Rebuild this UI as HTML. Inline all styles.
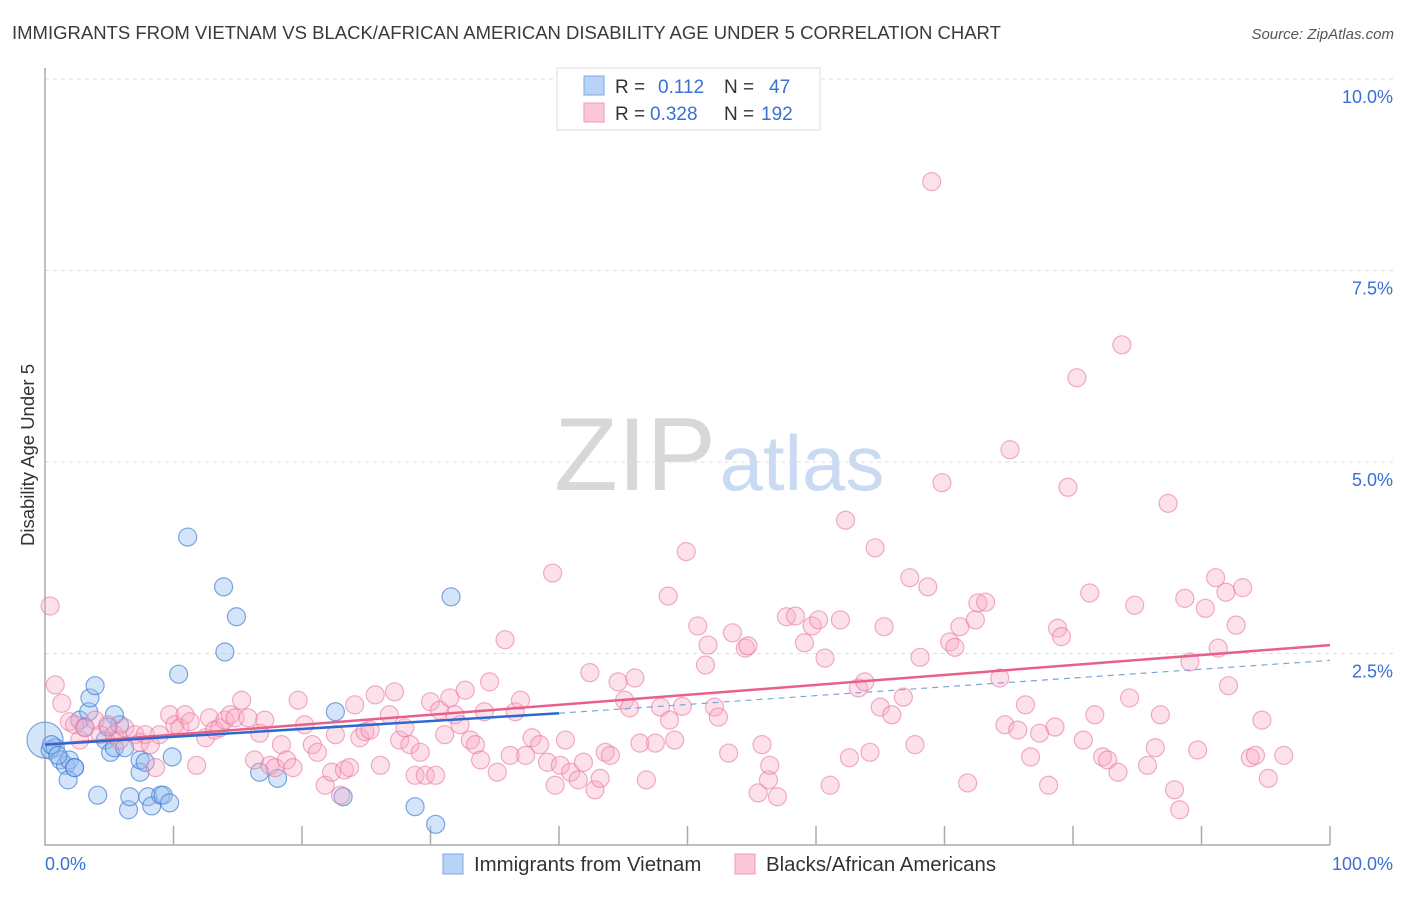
<!DOCTYPE html>
<html><head><meta charset="utf-8"><style>
body{margin:0;background:#fff;font-family:"Liberation Sans",sans-serif}
svg text{font-family:"Liberation Sans",sans-serif}
</style></head><body>
<svg id="chart" width="1406" height="892" xmlns="http://www.w3.org/2000/svg">
<text x="12" y="39" font-size="18.5" fill="#3a3a3a">IMMIGRANTS FROM VIETNAM VS BLACK/AFRICAN AMERICAN DISABILITY AGE UNDER 5 CORRELATION CHART</text>
<text x="1394" y="39" font-size="15" fill="#555" font-style="italic" text-anchor="end">Source: ZipAtlas.com</text>
<text transform="translate(34,455) rotate(-90)" font-size="18.5" fill="#333" text-anchor="middle">Disability Age Under 5</text>
<g>
<text x="635" y="490" font-size="104" fill="#d8d8d8" font-family="Liberation Serif" text-anchor="middle">ZIP</text>
<text x="802" y="490" font-size="78" fill="#c9daf2" text-anchor="middle">atlas</text>
</g>
<g id="grid"></g><g id="axes"></g><g id="blue"></g><g id="pink"></g><g id="trends"></g>
<g>
<rect x="557" y="68" width="263" height="62" fill="#fff" stroke="#ddd"/>
<rect x="584" y="76" width="20" height="19" fill="#b8d3f5" stroke="#7aa8e8"/>
<rect x="584" y="103" width="20" height="19" fill="#fcc8d8" stroke="#f098b4"/>
<text x="615" y="93" font-size="19" fill="#333">R = </text><text x="658" y="93" font-size="19" fill="#3a6fd4">0.112</text>
<text x="724" y="93" font-size="19" fill="#333">N = </text><text x="769" y="93" font-size="19" fill="#3a6fd4">47</text>
<text x="615" y="120" font-size="19" fill="#333">R = </text><text x="650" y="120" font-size="19" fill="#3a6fd4">0.328</text>
<text x="724" y="120" font-size="19" fill="#333">N = </text><text x="761" y="120" font-size="19" fill="#3a6fd4">192</text>
</g>
<g>
<rect x="443" y="854" width="20" height="20" fill="#b8d3f5" stroke="#7aa8e8"/>
<text x="474" y="871" font-size="20.4" fill="#333">Immigrants from Vietnam</text>
<rect x="735" y="854" width="20" height="20" fill="#fcc8d8" stroke="#f098b4"/>
<text x="766" y="871" font-size="20.4" fill="#333">Blacks/African Americans</text>
</g>
</svg>
<script>
const yTicks=[2.5,5,7.5,10];
const yTickLabels=["2.5%","5.0%","7.5%","10.0%"];
const xTickVals=[10,20,30,40,50,60,70,80,90,100];
const blueX=[0,0.4,0.8,1.2,1.6,1.9,2.3,0.5,1.0,1.8,2.3,2.7,3.4,3.5,3.9,3.1,4.7,5.1,5.4,5.8,5.4,6.2,4.1,4.9,6.5,6.6,7.4,7.4,7.8,8.0,8.3,9.0,9.2,9.7,9.9,10.4,11.1,13.9,14.9,14.0,16.7,18.1,22.6,23.2,28.8,30.4,31.6];
const blueY=[1.37,1.24,1.27,1.11,1.04,1.11,1.01,1.31,1.17,0.85,1.01,1.63,1.74,1.92,2.08,1.54,1.37,1.21,1.27,1.57,1.70,1.27,0.65,1.54,0.46,0.63,0.95,1.11,1.08,0.63,0.51,0.65,0.65,0.55,1.15,2.23,4.02,3.37,2.98,2.52,0.95,0.87,1.74,0.63,0.50,0.27,3.24];
const pinkX=[0.4,0.8,1.3,1.9,2.3,2.7,3.1,3.9,4.3,4.9,5.4,5.8,6.2,7.0,7.4,7.8,8.2,8.6,8.9,9.7,10.1,10.5,10.9,11.3,11.8,12.5,12.8,13.2,13.6,14.0,14.4,14.8,15.3,15.8,16.3,16.7,17.1,17.5,17.9,18.4,18.8,19.3,19.7,20.2,20.8,21.2,21.8,22.3,22.6,23.0,23.3,23.7,24.1,24.5,24.9,25.3,25.7,26.1,26.8,27.2,27.6,28.0,28.4,28.8,29.2,29.6,30.0,30.4,30.7,31.1,31.5,31.9,32.3,32.7,33.1,33.5,33.9,34.2,34.6,35.2,35.8,36.2,36.6,37.0,37.4,37.9,38.5,39.1,39.5,39.7,40.1,40.5,40.9,41.5,41.9,42.4,42.8,43.2,43.6,44.0,44.6,45.1,45.5,45.9,46.3,46.8,47.5,47.9,48.5,48.6,49.0,49.6,49.9,50.8,51.4,51.6,52.1,52.4,53.2,53.5,54.5,54.7,55.5,55.8,56.3,56.4,57.0,57.7,58.4,59.1,59.7,60.2,60.7,61.1,61.9,62.3,62.6,63.3,63.8,64.2,64.6,65.0,65.3,65.9,66.8,67.3,67.7,68.1,68.7,69.0,69.8,70.4,70.8,71.2,71.8,72.4,72.6,73.2,74.3,74.7,75.1,75.7,76.3,76.7,77.4,78.1,78.6,78.8,79.1,79.6,80.3,80.8,81.3,81.7,82.3,82.7,83.5,83.8,84.4,84.8,85.8,86.4,86.8,87.4,87.9,88.3,88.7,89.1,89.7,90.3,91.1,91.3,91.9,92.1,92.7,93.2,93.8,94.2,94.7,95.2,96.4];
const pinkY=[3.12,2.09,1.85,1.61,1.57,1.37,1.53,1.63,1.44,1.57,1.44,1.37,1.53,1.44,1.34,1.44,1.31,1.01,1.44,1.70,1.57,1.53,1.70,1.61,1.04,1.40,1.66,1.50,1.53,1.63,1.70,1.66,1.89,1.66,1.11,1.46,1.63,1.04,1.01,1.31,1.11,1.01,1.89,1.57,1.31,1.21,0.78,0.95,1.44,0.65,0.98,1.01,1.83,1.40,1.48,1.50,1.96,1.04,1.70,2.00,1.37,1.53,1.31,0.91,1.21,0.91,1.87,0.91,1.76,1.44,1.92,1.70,1.57,2.02,1.37,1.31,1.11,1.74,2.13,0.95,2.68,1.17,1.74,1.89,1.17,1.40,1.31,1.08,3.55,0.78,1.04,1.37,0.95,0.85,1.08,2.25,0.72,0.87,1.21,1.17,2.13,1.89,1.79,2.18,1.33,0.85,1.33,1.80,3.25,1.63,1.37,1.81,3.83,2.86,2.35,2.61,1.80,1.67,1.20,2.77,2.57,2.60,0.68,1.31,0.85,1.04,0.63,2.98,2.99,2.64,2.86,2.94,2.44,0.78,2.94,4.24,1.14,2.05,2.13,1.21,3.88,1.80,2.85,1.70,1.93,3.49,1.31,2.45,3.37,8.66,4.73,2.65,2.58,2.85,0.81,2.94,3.16,3.17,2.18,1.57,5.16,1.50,1.83,1.15,1.46,0.78,1.54,2.83,2.72,4.67,6.10,1.37,3.29,1.70,1.15,1.11,0.95,6.53,1.92,3.13,1.04,1.27,1.70,4.46,0.72,0.46,3.22,2.39,1.24,3.09,3.49,2.57,3.30,2.08,2.87,3.36,1.14,1.17,1.63,0.87,1.17];
const blueTrend=[1.31,1.72,2.41];   // at x=0, x=40 (end of solid), x=100
const pinkTrend=[1.31,2.61];        // at x=0, x=100

const NS="http://www.w3.org/2000/svg";
const X0=45,X1=1330,Y0=845,PX=76.6;
const sx=v=>X0+(X1-X0)*v/100, sy=v=>Y0-v*PX;
function mk(tag,attrs,parent){const e=document.createElementNS(NS,tag);for(const k in attrs)e.setAttribute(k,attrs[k]);parent.appendChild(e);return e;}
const grid=document.getElementById('grid'),axes=document.getElementById('axes');
yTicks.forEach((t,i)=>{
  const l=mk('line',{x1:X0,x2:1395,y1:sy(t),y2:sy(t),stroke:'#ddd','stroke-dasharray':'4,4'},grid);
  
  
  const tx=mk('text',{x:1393,y:sy(t)+24,'font-size':18,fill:'#3a6fd4','text-anchor':'end'},grid);
  tx.textContent=yTickLabels[i];
  
  
});
const ax=mk('path',{d:`M${X0},68 V${Y0} H${X1}`,stroke:'#aaa','stroke-width':1.5,fill:'none'},axes);


xTickVals.forEach(t=>{
  const l=mk('line',{x1:sx(t),x2:sx(t),y1:826,y2:Y0,stroke:'#aaa','stroke-width':1.5},axes);
  
  
});
const xl0=mk('text',{x:45,y:870,'font-size':18,fill:'#3a6fd4'},axes);xl0.textContent='0.0%';


const xl1=mk('text',{x:1393,y:870,'font-size':18,fill:'#3a6fd4','text-anchor':'end'},axes);xl1.textContent='100.0%';


const gb=document.getElementById('blue'),gp=document.getElementById('pink');
pinkX.forEach((x,i)=>{
  const c=mk('circle',{cx:sx(x),cy:sy(pinkY[i]),r:9,fill:'rgba(248,170,195,0.35)',stroke:'rgba(232,120,160,0.6)','stroke-width':1.2},gp);
  
  
});
blueX.forEach((x,i)=>{
  const c=mk('circle',{cx:sx(x),cy:sy(blueY[i]),r:i===0?18:9,fill:'rgba(150,190,240,0.4)',stroke:'rgba(60,120,210,0.65)','stroke-width':1.2},gb);
  
  
});
const tr=document.getElementById('trends');
const p=mk('line',{x1:sx(0),y1:sy(pinkTrend[0]),x2:sx(100),y2:sy(pinkTrend[1]),stroke:'#e8608a','stroke-width':2.5},tr);


const b=mk('line',{x1:sx(0),y1:sy(blueTrend[0]),x2:sx(40),y2:sy(blueTrend[1]),stroke:'#2d6ad0','stroke-width':2.5},tr);


const bd=mk('line',{x1:sx(40),y1:sy(blueTrend[1]),x2:sx(100),y2:sy(blueTrend[2]),stroke:'#7fa3dc','stroke-width':1.2,'stroke-dasharray':'6,5'},tr);


</script>
</body></html>
